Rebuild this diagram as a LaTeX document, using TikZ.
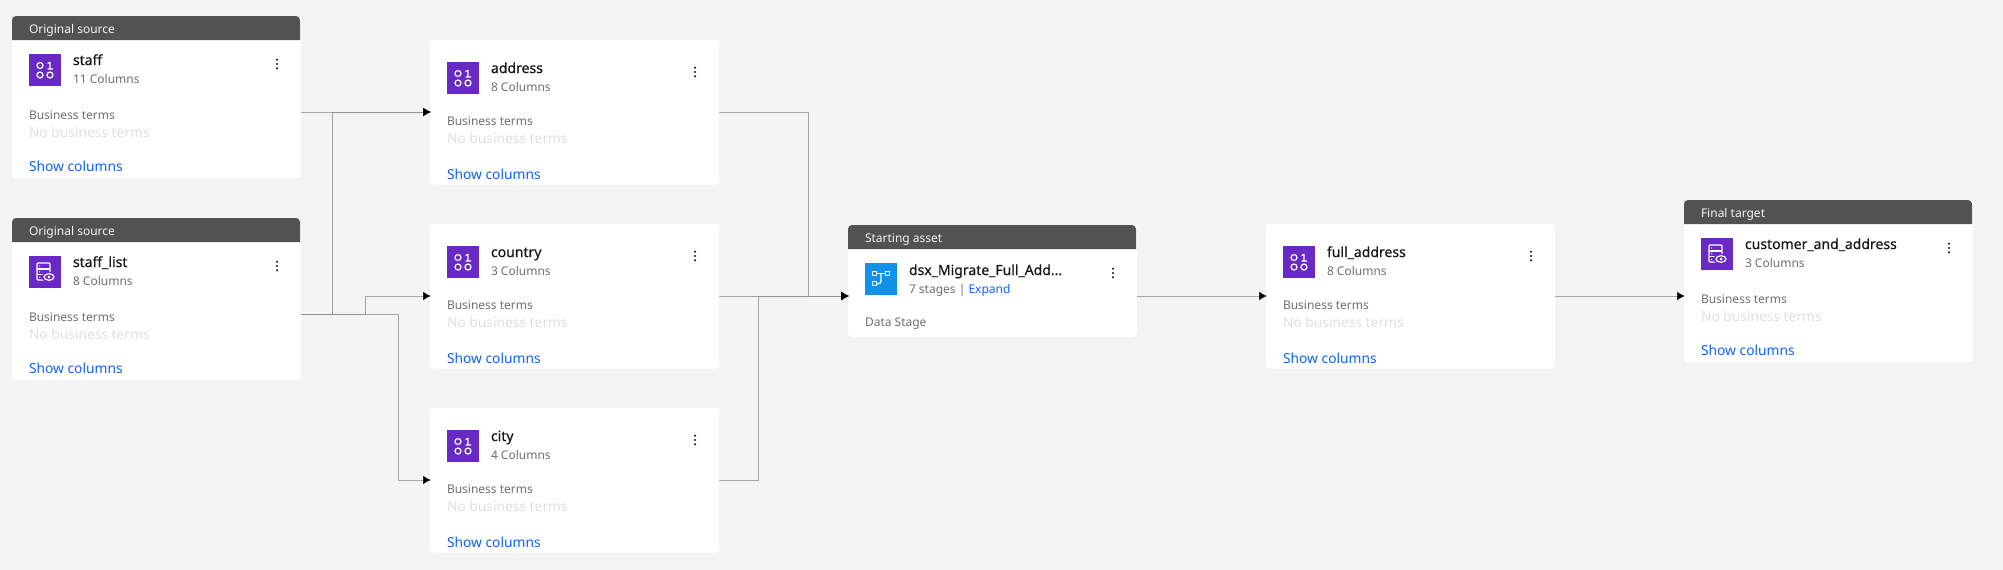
\documentclass[tikz,border=0pt]{standalone}
\usepackage{fontspec}
\setmainfont{Noto Sans}
\newfontfamily\titlefont{Noto Sans}[FakeBold=0.5]
\usetikzlibrary{arrows.meta}

\definecolor{pagebg}{HTML}{F4F4F4}
\definecolor{headbg}{HTML}{525252}
\definecolor{plum}{HTML}{6929C4}
\definecolor{sky}{HTML}{1192E8}
\definecolor{ink}{HTML}{161616}
\definecolor{dim}{HTML}{6F6F6F}
\definecolor{faint}{HTML}{E0E0E0}
\definecolor{linkblue}{HTML}{0F62FE}
\definecolor{wiregray}{HTML}{8D8D8D}

\tikzstyle{card} = [fill=white, rounded corners=4pt, anchor=north west, minimum width=289pt, inner sep=0, outer sep=0]
\tikzstyle{iconbox} = [anchor=north west, minimum size=32pt, inner sep=0, outer sep=0]
\tikzstyle{label} = [anchor=base west, inner sep=0, outer sep=0]
\tikzstyle{headtext} = [label, text=pagebg, font=\fontsize{12}{14}\selectfont]
\tikzstyle{title} = [label, text=ink, font=\fontsize{14}{16}\titlefont\selectfont]
\tikzstyle{detail} = [label, text=dim, font=\fontsize{12}{14}\selectfont]
\tikzstyle{noterm} = [label, text=faint, font=\fontsize{13.8}{16}\selectfont]
\tikzstyle{showlink} = [label, text=linkblue, font=\fontsize{13.8}{16}\selectfont]
\tikzstyle{link} = [draw=wiregray, draw opacity=.75, line width=1pt, -{Latex[black,length=8pt,width=9pt]}, shorten >=-1pt]
\tikzstyle{glyph} = [draw=white, line width=1.2pt]

\tikzset{
  binicon/.pic={
    \draw[glyph] (11,11.5) circle (3pt);
    \draw[glyph] (18.5,9.5) -- (21,8.5) -- (21,15) (18.5,15) -- (24,15);
    \draw[glyph] (11,21) circle (3pt);
    \draw[glyph] (21,21) circle (3pt);
  },
  eyeicon/.pic={
    \draw[glyph, rounded corners=1pt] (8,7) rectangle (21,24);
    \draw[glyph] (8,13) -- (21,13) (8,18.5) -- (16,18.5);
    \fill[white] (10.7,10) circle (.7pt) (10.7,15.8) circle (.7pt) (10.7,21.3) circle (.7pt);
    \draw[draw=plum, fill=plum, line width=1.5pt] (20,21) ellipse (6.5pt and 4.5pt);
    \draw[glyph] (20,21) ellipse (5pt and 3.3pt);
    \fill[white] (20,21) circle (1.5pt);
  },
  flowicon/.pic={
    \draw[glyph] (7.7,8.5) rectangle (11.7,12.5);
    \draw[glyph] (20.3,8.5) rectangle (24.3,12.5);
    \draw[glyph] (7.7,18.7) rectangle (11.7,22.7);
    \draw[glyph] (11.7,10.5) -- (20.3,10.5);
    \draw[glyph, rounded corners=2.5pt] (16,10.5) -- (16,20.7) -- (11.7,20.7);
  },
  kebab/.pic={
    \fill[ink] (0,-4.3) circle (1.2pt) (0,0) circle (1.2pt) (0,4.3) circle (1.2pt);
  }
}

% name, title, columns, icon, baseline of the terms
\newcommand{\cardtext}[5]{
  \node [iconbox, fill=plum] (#1icon) at (0,0) {};
  \pic at (#1icon.north west) {#4};
  \pic at (248,10) {kebab};
  \node [title] (#1title) at (44,11) {#2};
  \node [detail] (#1cols) at (44,29) {#3};
  \node [detail] (#1terms) at (0,#5) {Business terms};
  \node [noterm] (#1none) at (0,#5+18) {No business terms};
  \node [showlink] (#1show) at (0,117) {Show columns};
}
% dark top bar of a card
\newcommand{\cardbar}[2]{
  \fill[headbg] ([yshift=-24pt]#1.north west) [rounded corners=4pt] -- (#1.north west) -- ([xshift=-1pt]#1.north east) [sharp corners] -- ([xshift=-1pt,yshift=-24pt]#1.north east) -- cycle;
  \node [headtext] (#1bar) at ([xshift=17pt,yshift=-17pt]#1.north west) {#2};
}
% name, x, y of the icon, bar text, title, columns, icon
\newcommand{\headcard}[7]{
  \begin{scope}[shift={(#2,#3)}]
    \node [card, minimum height=162pt] (#1) at (-17,-38) {};
    \cardbar{#1}{#4}
    \cardtext{#1}{#5}{#6}{#7}{65}
  \end{scope}
}
\newcommand{\plaincard}[5]{
  \begin{scope}[shift={(#2,#3)}]
    \node [card, minimum height=145pt] (#1) at (-17,-22.5) {};
    \cardtext{#1}{#4}{#5}{binicon}{63}
  \end{scope}
}

\begin{document}
\begin{tikzpicture}[x=1pt,y=-1pt]

\fill[pagebg] (0,0) rectangle (2003,570);
\useasboundingbox (0,0) rectangle (2003,570);

\headcard{staff}{29}{54}{Original source}{staff}{11 Columns}{binicon}
\headcard{staff_list}{29}{256}{Original source}{staff\_list}{8 Columns}{eyeicon}
\plaincard{address}{447}{62}{address}{8 Columns}
\plaincard{country}{447}{246}{country}{3 Columns}
\plaincard{city}{447}{430}{city}{4 Columns}
\plaincard{full_address}{1283}{246}{full\_address}{8 Columns}
\headcard{target}{1701}{238}{Final target}{customer\_and\_address}{3 Columns}{eyeicon}

\begin{scope}[shift={(865,263)}]
\node [card, minimum height=112pt] (job) at (-17,-38) {};
\cardbar{job}{Starting asset}
\node [iconbox, fill=sky] (jobicon) at (0,0) {};
\pic at (jobicon.north west) {flowicon};
\pic at (248,10) {kebab};
\node [title] (jobtitle) at (44,12) {dsx\_Migrate\_Full\_Add...};
\node [detail] (jobstages) at (44,30) {7 stages | \textcolor{linkblue}{Expand}};
\node [detail] (jobkind) at (0,63) {Data Stage};
\end{scope}

\coordinate (staffout) at ([yshift=-15pt]staff.east);
\coordinate (listout) at ([yshift=-15pt]staff_list.east);
\coordinate (jobin) at ([yshift=-15pt]job.west);
\coordinate (jobout) at ([yshift=-15pt]job.east);
\coordinate (targetin) at ([yshift=-15pt]target.west);
\coordinate (turnaddress) at (332,112);
\coordinate (turncountry) at (365,296);
\coordinate (turncity) at (398,480);
\coordinate (joinaddress) at (808,296);
\coordinate (joincity) at (758,296);

\draw [link] (staffout) -- (address.west);
\draw [link] (listout) -| (turnaddress) -- (address.west);
\draw [link] (listout) -| (turncountry) -- (country.west);
\draw [link] (listout) -| (turncity) -- (city.west);
\draw [link] (address.east) -| (joinaddress) -- (jobin);
\draw [link] (country.east) -- (jobin);
\draw [link] (city.east) -| (joincity) -- (jobin);
\draw [link] (jobout) -- (full_address.west);
\draw [link] (full_address.east) -- (targetin);
\end{tikzpicture}
\end{document}
